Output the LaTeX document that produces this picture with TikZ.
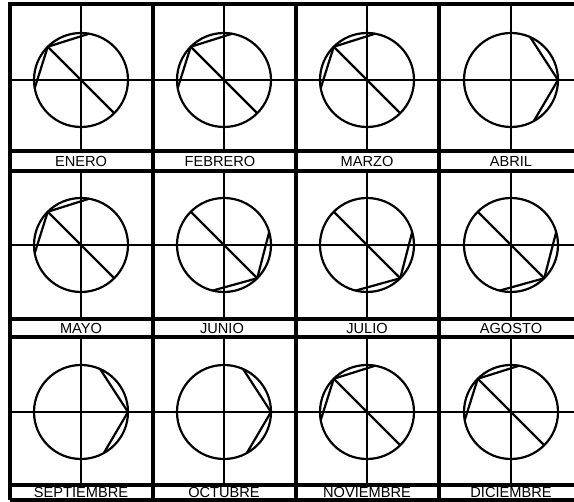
\documentclass[tikz,border=0pt]{standalone}
\usepackage{fontspec}
\setmainfont{Liberation Sans}
\usetikzlibrary{calc}

\begin{document}
\begin{tikzpicture}[x=0.5pt,y=0.5pt,
  frame/.style={line width=1.6pt},
  axis/.style={line width=0.7pt},
  dial/.style={line width=1.1pt},
  month/.style={font=\fontsize{7.3}{8}\selectfont,inner sep=0pt}]
\useasboundingbox (0,0) rectangle (574,502);
% frame and strips
\draw[frame] (574,498)--(10,498)--(10,2);
\draw[line width=2.2pt] (10,2)--(574,2);
\foreach \x in {153,296,439} \draw[frame] (\x,498)--(\x,2);
\foreach \y in {351,331,183,165,17} \draw[frame] (10,\y)--(574,\y);
% cross lines
\foreach \y in {422,257,90} \draw[axis] (10,\y)--(574,\y);
\foreach \x in {81,224,367,511} \foreach \a/\b in {498/351,331/183,165/17} \draw[axis] (\x,\a)--(\x,\b);
% labels
\node[month] (ene) at (81,341){ENERO};\node[month] (feb) at (220,341){FEBRERO};\node[month] (mar) at (367,341){MARZO};\node[month] (abr) at (511,341){ABRIL};
\node[month] (may) at (81,174){MAYO};\node[month] (jun) at (222,174){JUNIO};\node[month] (jul) at (367,174){JULIO};\node[month] (ago) at (511,174){AGOSTO};
\node[month] (sep) at (81,9.5){SEPTIEMBRE};\node[month] (oct) at (224,9.5){OCTUBRE};\node[month] (nov) at (367,9.5){NOVIEMBRE};\node[month] (dic) at (511,9.5){DICIEMBRE};
% dials, chords from upper left
\foreach \x/\y in {81/422,224/422,367/422,81/257,367/90,511/90}{
  \coordinate (o) at (\x,\y);
  \draw[dial] (o) circle[radius=47];
  \coordinate (p) at ($(o)+(135:47)$);\coordinate (q) at ($(o)+(-45:47)$);
  \draw[dial] (p)--(q);
  \draw[dial] ($(o)+(80:47)$)--(p)--($(o)+(190:47)$);
}
% dials, chords from lower right
\foreach \x/\y in {224/257,367/257,511/257}{
  \coordinate (o) at (\x,\y);
  \draw[dial] (o) circle[radius=47];
  \coordinate (p) at ($(o)+(135:47)$);\coordinate (q) at ($(o)+(-45:47)$);
  \draw[dial] (p)--(q);
  \draw[dial] ($(o)+(16:47)$)--(q)--($(o)+(-104:47)$);
}
% dials, chords from the right
\foreach \x/\y in {511/422,81/90,224/90}{
  \coordinate (o) at (\x,\y);
  \draw[dial] (o) circle[radius=47];
  \coordinate (q) at ($(o)+(0:47)$);
  \draw[dial] ($(o)+(66:47)$)--(q)--($(o)+(-61:47)$);
}
\end{tikzpicture}
\end{document}
